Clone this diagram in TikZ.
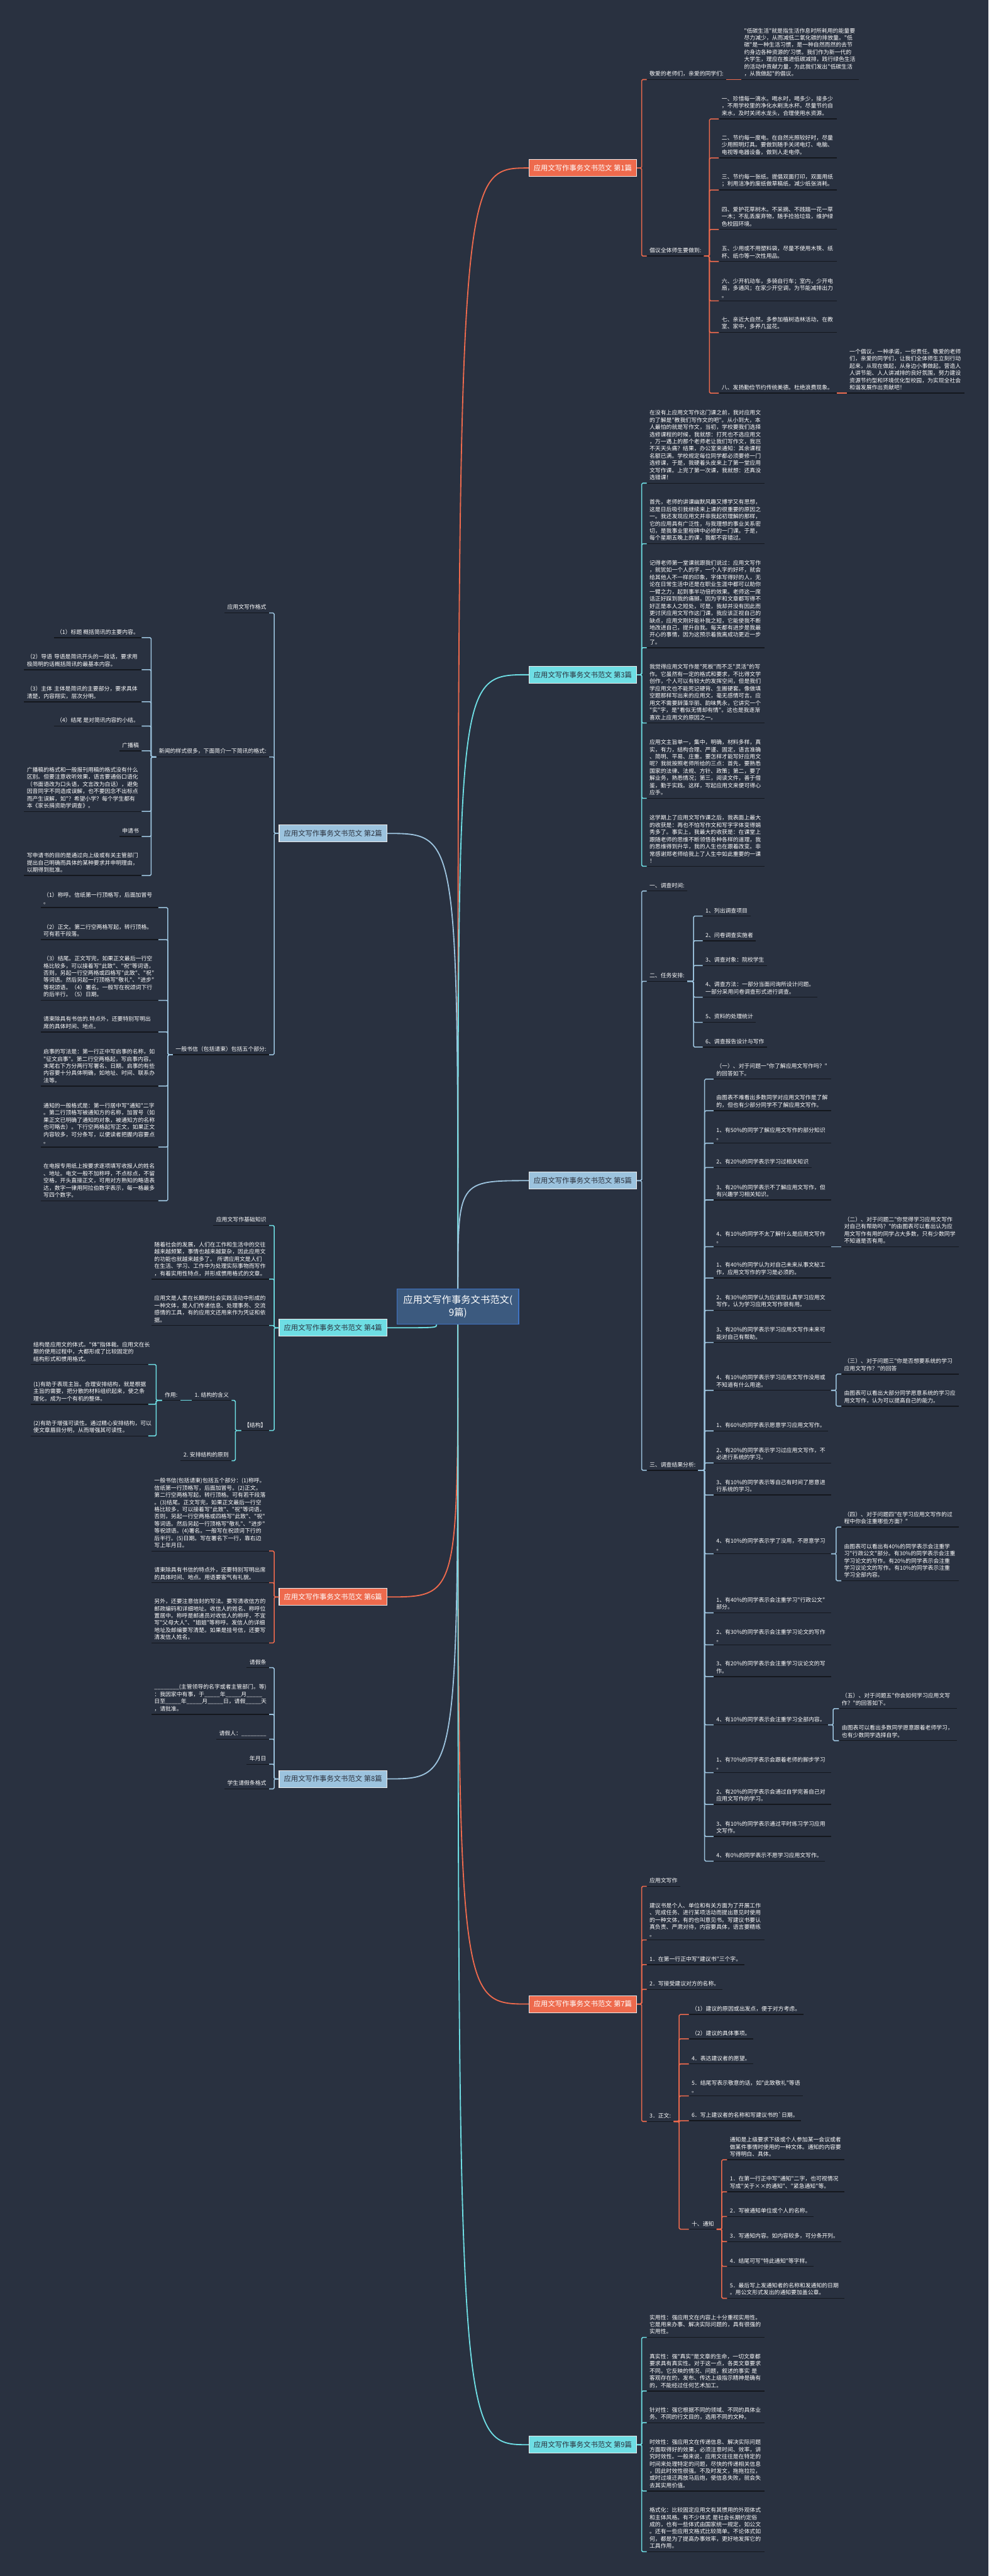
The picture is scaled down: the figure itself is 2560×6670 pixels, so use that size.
\documentclass[tikz,border=0pt]{standalone}
\usepackage{fontspec}
\newfontfamily\cjk{Noto Sans CJK SC}
\usetikzlibrary{positioning}
\definecolor{bgnavy}{HTML}{293140}
\definecolor{coral}{HTML}{EE6A4D}
\definecolor{aqua}{HTML}{6EDEE4}
\definecolor{sky}{HTML}{9CC3DE}
\definecolor{rootfill}{HTML}{3C5A7F}
\definecolor{rootedge}{HTML}{3F74C4}
\definecolor{inkline}{HTML}{14171D}
\definecolor{topicink}{HTML}{2A303C}
\tikzset{
  rootbox/.style={draw=rootedge, line width=0.4mm, fill=rootfill, text=white,
    font=\cjk\fontsize{14.2pt}{18pt}\selectfont, align=center,
    minimum width=63mm, minimum height=18.4mm, inner sep=0pt},
  topicbox/.style={draw=white!92!black, line width=0.35mm, text=topicink,
    font=\cjk\fontsize{10.5pt}{12pt}\selectfont,
    minimum width=55.8mm, minimum height=8.8mm, inner sep=0pt},
  underl/.style={draw=inkline, line width=0.45mm},
  leaf/.style={font=\cjk\fontsize{8.2pt}{10.6pt}\selectfont, text=white,
    align=left, inner xsep=1.4mm, inner ysep=1.5mm,
    append after command={(\tikzlastnode.south west) edge[underl] (\tikzlastnode.south east)}},
  para/.style={leaf, text width=58mm},
  rl/.style={anchor=south west},
  ll/.style={anchor=south east},
  trunk/.style={line width=0.6mm},
  twig/.style={line width=0.5mm, rounded corners=0.6mm},
}

\begin{document}
\begin{tikzpicture}[x=0.2mm,y=-0.2mm]
\useasboundingbox (0,0) rectangle (2560,6670);
\fill[bgnavy] (0,0) rectangle (2560,6670);

% centre and the nine branch boxes
\node[rootbox] (root) at (1186,3383) {应用文写作事务文书范文(\\9篇)};
\node[topicbox, fill=coral, text=white] (p1) at (1509.5,435) {应用文写作事务文书范文 第1篇};
\node[topicbox, fill=sky] (p2) at (862.5,2158) {应用文写作事务文书范文 第2篇};
\node[topicbox, fill=aqua] (p3) at (1509.5,1747) {应用文写作事务文书范文 第3篇};
\node[topicbox, fill=aqua] (p4) at (862.5,3438) {应用文写作事务文书范文 第4篇};
\node[topicbox, fill=sky] (p5) at (1509.5,3057) {应用文写作事务文书范文 第5篇};
\node[topicbox, fill=coral, text=white] (p6) at (862.5,4135) {应用文写作事务文书范文 第6篇};
\node[topicbox, fill=coral, text=white] (p7) at (1509.5,5189) {应用文写作事务文书范文 第7篇};
\node[topicbox, fill=sky] (p8) at (862.5,4606) {应用文写作事务文书范文 第8篇};
\node[topicbox, fill=aqua] (p9) at (1509.5,6330) {应用文写作事务文书范文 第9篇};

% ---------------- 第1篇
\node[leaf, rl] (p1a) at (1675,206) {敬爱的老师们，亲爱的同学们:};
\node[para, rl] (p1ax) at (1920,206) {"低碳生活"就是指生活作息时所耗用的能量要\\尽力减少，从而减低二氧化碳的排放量。"低\\碳"是一种生活习惯，是一种自然而然的去节\\约身边各种资源的'习惯。我们作为新一代的\\大学生，理应在推进低碳减排，践行绿色生活\\的活动中贡献力量，为此我们发出"低碳生活\\，从我做起"的倡议。};
\node[leaf, rl] (p1b) at (1675,663) {倡议全体师生要做到:};
\node[para, rl] (p1b1) at (1862,308) {一、珍惜每一滴水。喝水时，喝多少，接多少\\，不用学校里的净化水刷洗水杯。尽量节约自\\来水，及时关闭水龙头，合理使用水资源。};
\node[para, rl] (p1b2) at (1862,409) {二、节约每一度电。在自然光照较好时，尽量\\少用照明灯具。要做到随手关闭电灯、电脑、\\电视等电器设备，做到人走电停。};
\node[para, rl] (p1b3) at (1862,492) {三、节约每一张纸。提倡双面打印，双面用纸\\；利用洁净的废纸做草稿纸，减少纸张消耗。};
\node[para, rl] (p1b4) at (1862,594) {四、爱护花草树木。不采摘、不践踏一花一草\\一木；不乱丢废弃物，随手捡拾垃圾，维护绿\\色校园环境。};
\node[para, rl] (p1b5) at (1862,677) {五、少用或不用塑料袋，尽量不使用木筷、纸\\杯、纸巾等一次性用品。};
\node[para, rl] (p1b6) at (1862,779) {六、少开机动车，多骑自行车；室内，少开电\\扇，多通风；在家少开空调，为节能减排出力\\。};
\node[para, rl] (p1b7) at (1862,861) {七、亲近大自然，多参加植树造林活动，在教\\室、家中，多养几盆花。};
\node[para, rl] (p1b8) at (1862,1018) {八、发扬勤俭节约传统美德。杜绝浪费现象。};
\node[para, rl] (p1b8x) at (2193,1018) {一个倡议，一种承诺，一份责任。敬爱的老师\\们，亲爱的同学们，让我们全体师生立刻行动\\起来，从现在做起，从身边小事做起。营造人\\人讲节能、人人讲减排的良好氛围，努力建设\\资源节约型和环境优化型校园，为实现全社会\\和谐发展作出贡献吧！};

% ---------------- 第3篇
\node[para, rl] (p3a) at (1675,1251) {在没有上应用文写作这门课之前，我对应用文\\的了解是"教我们写作文的吧"。从小到大，本\\人最怕的就是写作文，当初，学校要我们选择\\选修课程的时候，我就想：打死也不选应用文\\，万一遇上的那个老师老让我们写作文，我岂\\不天天头痛？结果，办公室来通知：其余课程\\名额已满。学校规定每位同学都必须要修一门\\选修课，于是，我硬着头皮来上了第一堂应用\\文写作课。上完了第一次课，我就想：还真没\\选错课！};
\node[para, rl] (p3b) at (1675,1408) {首先，老师的讲课幽默风趣又博学又有思想，\\这是日后吸引我继续来上课的很重要的原因之\\一。我还发现应用文并非我起初理解的那样，\\它的应用具有广泛性，与我理想的事业关系密\\切，是我事业里程碑中必修的一门课。于是，\\每个星期五晚上的课，我都不容错过。};
\node[para, rl] (p3c) at (1675,1677) {记得老师第一堂课就跟我们说过：应用文写作\\，就犹如一个人的字，一个人字的好坏，就会\\给其他人不一样的印象，字体写得好的人，无\\论在日常生活中还是在职业生涯中都可以助你\\一臂之力，起到事半功倍的效果。老师这一席\\话正好踩到我的痛脚。因为字和文章都写得不\\好正是本人之短处，可是，我却并没有因此而\\更讨厌应用文写作这门课，我应该正视自己的\\缺点，应用文刚好能补我之短，它能使我不断\\地改进自己，提升自我。每天都有进步是我最\\开心的事情，因为这预示着我离成功更近一步\\了。};
\node[para, rl] (p3d) at (1675,1872) {我觉得应用文写作是"死板"而不乏"灵活"的写\\作。它虽然有一定的格式和要求，不比得文学\\创作，个人可以有较大的发挥空间，但是我们\\学应用文也不能死记硬背、生搬硬套。像做填\\空题那样写出来的应用文，毫无感情可言。应\\用文不需要辞藻华丽、韵味隽永，它讲究一个\\"实"字，是"看似无情却有情"。这也是我逐渐\\喜欢上应用文的原因之一。};
\node[para, rl] (p3e) at (1675,2067) {应用文主旨单一，集中，明确，材料多样，真\\实，有力，结构合理、严谨、固定，语言准确\\、简明、平易、庄重。要怎样才能写好应用文\\呢？我就按照老师所给的三点：首先，要熟悉\\国家的法律、法规、方针、政策；第二，要了\\解业务，熟悉情况；第三，阅读文件，善于借\\鉴，勤于实践。这样，写起应用文来便可得心\\应手。};
\node[para, rl] (p3f) at (1675,2243) {这学期上了应用文写作课之后，我表面上最大\\的收获是：再也不怕写作文和写字字体变得娟\\秀多了。事实上，我最大的收获是：在课堂上\\跟随老师的思维不断领悟各种各样的道理，我\\的思维得到升华，我的人生也在跟着改变。非\\常感谢郑老师给我上了人生中如此重要的一课\\！};

% ---------------- 第5篇
\node[leaf, rl] (p5a) at (1675,2307) {一、调查时间:};
\node[leaf, rl] (p5b) at (1675,2541) {二、任务安排:};
\node[leaf, rl] (p5c) at (1675,3807) {三、调查结果分析:};
\node[leaf, rl] (p5b1) at (1820,2372) {1、列出调查项目};
\node[leaf, rl] (p5b2) at (1820,2436) {2、问卷调查实施者};
\node[leaf, rl] (p5b3) at (1820,2500) {3、调查对象：院校学生};
\node[leaf, rl] (p5b4) at (1820,2582) {4、调查方法：一部分当面问询所设计问题。\\一部分采用问卷调查形式进行调查。};
\node[leaf, rl] (p5b5) at (1820,2647) {5、资料的处理统计};
\node[leaf, rl] (p5b6) at (1820,2711) {6、调查报告设计与写作};
\node[para, rl] (c01) at (1848,2794) {（一）、对于问题一"你了解应用文写作吗？"\\的回答如下。};
\node[para, rl] (c02) at (1848,2876) {由图表不难看出多数同学对应用文写作是了解\\的，但也有少部分同学不了解应用文写作。};
\node[para, rl] (c03) at (1848,2960) {1、有50\%的同学了解应用文写作的部分知识\\。};
\node[leaf, rl] (c04) at (1848,3023) {2、有20\%的同学表示学习过相关知识};
\node[para, rl] (c05) at (1848,3107) {3、有20\%的同学表示不了解应用文写作，但\\有兴趣学习相关知识。};
\node[para, rl] (c06) at (1848,3228) {4、有10\%的同学不太了解什么是应用文写作\\。};
\node[para, rl] (c07) at (1848,3309) {1、有40\%的同学认为对自己未来从事文秘工\\作，应用文写作的学习是必须的。};
\node[para, rl] (c08) at (1848,3393) {2、有30\%的同学认为应该现认真学习应用文\\写作，认为学习应用文写作很有用。};
\node[para, rl] (c09) at (1848,3476) {3、有20\%的同学表示学习应用文写作未来可\\能对自己有帮助。};
\node[para, rl] (c10) at (1848,3600) {4、有10\%的同学表示学习应用文写作没用或\\不知道有什么用途。};
\node[leaf, rl] (c11) at (1848,3705) {1、有60\%的同学表示愿意学习应用文写作。};
\node[para, rl] (c12) at (1848,3788) {2、有20\%的同学表示学习过应用文写作，不\\必进行系统的学习。};
\node[para, rl] (c13) at (1848,3871) {3、有10\%的同学表示等自己有时间了愿意进\\行系统的学习。};
\node[para, rl] (c14) at (1848,4023) {4、有10\%的同学表示学了没用，不愿意学习\\。};
\node[para, rl] (c15) at (1848,4176) {1、有40\%的同学表示会注重学习"行政公文"\\部分。};
\node[para, rl] (c16) at (1848,4259) {2、有30\%的同学表示会注重学习论文的写作\\。};
\node[para, rl] (c17) at (1848,4341) {3、有20\%的同学表示会注重学习议论文的写\\作。};
\node[leaf, rl] (c18) at (1848,4466) {4、有10\%的同学表示会注重学习全部内容。};
\node[para, rl] (c19) at (1848,4590) {1、有70\%的同学表示会跟着老师的脚步学习\\。};
\node[para, rl] (c20) at (1848,4672) {2、有20\%的同学表示会通过自学完善自己对\\应用文写作的学习。};
\node[para, rl] (c21) at (1848,4755) {3、有10\%的同学表示通过平时练习学习应用\\文写作。};
\node[leaf, rl] (c22) at (1848,4819) {4、有0\%的同学表示不愿学习应用文写作。};
\node[para, rl] (c06x) at (2179,3228) {（二）、对于问题二"你觉得学习应用文写作\\对自己有帮助吗？"的由图表可以看出认为应\\用文写作有用的同学占大多数，只有少数同学\\不知道是否有用。};
\node[para, rl] (c10a) at (2179,3558) {（三）、对于问题三"你是否想要系统的学习\\应用文写作？"的回答};
\node[para, rl] (c10b) at (2179,3641) {由图表可以看出大部分同学愿意系统的学习应\\用文写作，认为可以提高自己的能力。};
\node[para, rl] (c14a) at (2179,3954) {（四）、对于问题四"在学习应用文写作的过\\程中你会注重哪些方面？"};
\node[para, rl] (c14b) at (2179,4093) {由图表可以看出有40\%的同学表示会注重学\\习"行政公文"部分。有30\%的同学表示会注重\\学习论文的写作。有20\%的同学表示会注重\\学习议论文的写作。有10\%的同学表示注重\\学习全部内容。};
\node[para, rl] (c18a) at (2173,4424) {（五）、对于问题五"你会如何学习应用文写\\作？"的回答如下。};
\node[para, rl] (c18b) at (2173,4507) {由图表可以看出多数同学愿意跟着老师学习，\\也有少数同学选择自学。};

% ---------------- 第7篇
\node[leaf, rl] (p7a) at (1675,4884) {应用文写作};
\node[para, rl] (p7b) at (1675,5023) {建议书是个人、单位和有关方面为了开展工作\\、完成任务、进行某项活动而提出意见时使用\\的一种文体，有的也叫意见书。写建议书要认\\真负责、严肃对待，内容要具体，语言要精练\\。};
\node[leaf, rl] (p7c) at (1675,5087) {1．在第一行正中写"建议书"三个字。};
\node[leaf, rl] (p7d) at (1675,5151) {2．写接受建议对方的名称。};
\node[leaf, rl] (p7e) at (1675,5493) {3．正文:};
\node[leaf, rl] (p7e1) at (1784,5216) {（1）建议的原因或出发点，便于对方考虑。};
\node[leaf, rl] (p7e2) at (1784,5279) {（2）建议的具体事项。};
\node[leaf, rl] (p7e3) at (1784,5344) {4．表达建议者的愿望。};
\node[leaf, rl] (p7e4) at (1784,5427) {5．结尾写表示敬意的话，如"此致敬礼"等语\\。};
\node[leaf, rl] (p7e5) at (1784,5491) {6．写上建议者的名称和写建议书的`日期。};
\node[leaf, rl] (p7e6) at (1784,5772) {十、通知};
\node[para, rl] (n1) at (1883,5592) {通知是上级要求下级或个人参加某一会议或者\\做某件事情时使用的一种文体。通知的内容要\\写得明白、具体。};
\node[para, rl] (n2) at (1883,5675) {1．在第一行正中写"通知"二字，也可视情况\\写成"关于××的通知"、"紧急通知"等。};
\node[leaf, rl] (n3) at (1883,5739) {2．写被通知单位或个人的名称。};
\node[leaf, rl] (n4) at (1883,5804) {3．写通知内容。如内容较多，可分条开列。};
\node[leaf, rl] (n5) at (1883,5868) {4．结尾可写"特此通知"等字样。};
\node[para, rl] (n6) at (1883,5951) {5．最后写上发通知者的名称和发通知的日期\\。用公文形式发出的通知要加盖公章。};

% ---------------- 第9篇
\node[para, rl] (q1) at (1675,6052) {实用性：强应用文在内容上十分重视实用性。\\它是用来办事、解决实际问题的，具有很强的\\实用性。};
\node[para, rl] (q2) at (1675,6191) {真实性：强"真实"是文章的生命，一切文章都\\要求具有真实性。对于这一点，各类文章要求\\不同。它反映的情况、问题，叙述的事实 是\\客观存在的，发布、传达上级指示精神是确有\\的，不能经过任何艺术加工。};
\node[para, rl] (q3) at (1675,6273) {针对性：强它根据不同的领域、不同的具体业\\务、不同的行文目的，选用不同的文种。};
\node[para, rl] (q4) at (1675,6450) {时效性：强应用文在传递信息、解决实际问题\\方面取得好的效果，必须注意时间、效率，讲\\究时效性。一般来说，应用文往往是在特定的\\时间来处理特定的问题，尽快的传递相关信息\\，因此时效性很强。不及时发文，拖拖拉拉，\\或时过境迁再放马后炮，使信息失败，就会失\\去其实用价值。};
\node[para, rl] (q5) at (1675,6607) {格式化：比较固定应用文有其惯用的外观体式\\和主体风格。有不少体式 是社会长期约定俗\\成的，也有一些体式由国家统一规定，如公文\\。还有一些应用文格式比较简单。不论体式如\\何，都是为了提高办事效率，更好地发挥它的\\工具作用。};

% ---------------- 第2篇
\node[leaf, ll] (p2a) at (697,1587) {应用文写作格式};
\node[leaf, ll] (p2b) at (697,1960) {新闻的样式很多，下面简介一下简讯的格式:};
\node[leaf, ll] (p2c) at (697,2731) {一般书信（包括请柬）包括五个部分:};
\node[leaf, ll] (b1) at (367,1651) {（1）标题 概括简讯的主要内容。};
\node[para, ll] (b2) at (367,1734) {（2）导语 导语是简讯开头的一段话，要求用\\极简明的话概括简讯的最基本内容。};
\node[para, ll] (b3) at (367,1817) {（3）主体 主体是简讯的主要部分，要求具体\\清楚，内容翔实，层次分明。};
\node[leaf, ll] (b4) at (367,1880) {（4）结尾 是对简讯内容的小结。};
\node[leaf, ll] (b5) at (367,1944) {广播稿};
\node[para, ll] (b6) at (367,2101) {广播稿的格式和一般报刊用稿的格式没有什么\\区别。但要注意收听效果，语言要通俗口语化\\（书面语改为口头语，文言改为白话），避免\\因音同字不同造成误解，也不要因念不出标点\\而产生误解，如"？希望小学？每个学生都有\\本《家长捐资助学调查》。};
\node[leaf, ll] (b7) at (367,2166) {申请书};
\node[para, ll] (b8) at (367,2267) {写申请书的目的是通过向上级或有关主管部门\\提出自己明确而具体的某种要求并申明理由，\\以期得到批准。};
\node[para, ll] (d1) at (410,2350) {（1）称呼。信纸第一行顶格写，后面加冒号\\。};
\node[para, ll] (d2) at (410,2433) {（2）正文。第二行空两格写起，转行顶格。\\可有若干段落。};
\node[para, ll] (d3) at (410,2590) {（3）结尾。正文写完，如果正文最后一行空\\格比较多，可以接着写"此致"、"祝"等词语，\\否则，另起一行空两格或四格写"此致"、"祝"\\等词语。然后另起一行顶格写"敬礼"、"进步"\\等祝颂语。（4）署名。一般写在祝颂词下行\\的后半行。（5）日期。};
\node[para, ll] (d4) at (410,2672) {请柬除具有书信的.特点外，还要特别写明出\\席的具体时间、地点。};
\node[para, ll] (d5) at (410,2812) {启事的写法是：第一行正中写启事的名称，如\\"征文启事"。第二行空两格起，写启事内容。\\末尾右下方分两行写署名、日期。启事的有些\\内容要十分具体明确，如地址、时间、联系办\\法等。};
\node[para, ll] (d6) at (410,2970) {通知的一般格式是：第一行居中写"通知"二字\\。第二行顶格写被通知方的名称，加冒号（如\\果正文已明确了通知的对象，被通知方的名称\\也可略去）。下行空两格起写正文，如果正文\\内容较多，可分条写，以便读者把握内容要点\\。};
\node[para, ll] (d7) at (410,3109) {在电报专用纸上按要求逐项填写收报人的姓名\\、地址。电文一般不加称呼，不点标点，不留\\空格，开头直接正文，可用对方熟知的略语表\\达，数字一律用阿拉伯数字表示，每一格最多\\写四个数字。};

% ---------------- 第4篇
\node[leaf, ll] (p4a) at (697,3173) {应用文写作基础知识};
\node[para, ll] (p4b) at (697,3312) {随着社会的发展，人们在工作和生活中的交往\\越来越频繁，事情也越来越复杂，因此应用文\\的功能也就越来越多了。 所谓应用文是人们\\在生活、学习、工作中为处理实际事物而写作\\，有着实用性特点，并形成惯用格式的文章。};
\node[para, ll] (p4c) at (697,3432) {应用文是人类在长期的社会实践活动中形成的\\一种文体，是人们传递信息、处理事务、交流\\感情的工具，有的应用文还用来作为凭证和依\\据。};
\node[leaf, ll] (p4d) at (697,3704) {【结构】};
\node[leaf, ll] (p4d1) at (600,3626) {1. 结构的含义};
\node[leaf, ll] (p4d2) at (600,3782) {2. 安排结构的原则};
\node[leaf, ll] (p4e) at (467,3626) {作用:};
\node[para, ll] (e1) at (384,3533) {结构是应用文的体式。"体"指体裁。应用文在长\\期的使用过程中，大都形成了比较固定的\\结构形式和惯用格式。};
\node[para, ll] (e2) at (384,3636) {(1)有助于表现主旨。合理安排结构，就是根据\\主旨的需要，把分散的材料组织起来，使之条\\理化，成为一个有机的整体。};
\node[para, ll] (e3) at (384,3718) {(2)有助于增强可读性。通过精心安排结构，可以\\使文章眉目分明，从而增强其可读性。};

% ---------------- 第6篇
\node[para, ll] (p6a) at (697,4016) {一般书信(包括请柬)包括五个部分：(1)称呼。\\信纸第一行顶格写，后面加冒号。(2)正文。\\第二行空两格写起，转行顶格。可有若干段落\\。(3)结尾。正文写完，如果正文最后一行空\\格比较多，可以接着写"此致"、"祝"等词语，\\否则，另起一行空两格或四格写"此致"、"祝"\\等词语。然后另起一行顶格写"敬礼"、"进步"\\等祝颂语。(4)署名。一般写在祝颂词下行的\\后半行。(5)日期。写在署名下一行，靠右边\\写上年月日。};
\node[para, ll] (p6b) at (697,4098) {请柬除具有书信的特点外，还要特别写明出席\\的具体时间、地点。用语要客气有礼貌。};
\node[para, ll] (p6c) at (697,4254) {另外，还要注意信封的写法。要写清收信方的\\邮政编码和详细地址。收信人的姓名、称呼位\\置居中。称呼是邮递员对收信人的称呼，不宜\\写"父母大人"、"姐姐"等称呼。发信人的详细\\地址及邮编要写清楚。如果是挂号信，还要写\\清发信人姓名。};

% ---------------- 第8篇
\node[leaf, ll] (p8a) at (697,4318) {请假条};
\node[para, ll] (p8b) at (697,4439) {\_\_\_\_\_\_\_\_(主管领导的名字或者主管部门。等)\\：我因家中有事，于\_\_\_\_\_年\_\_\_\_\_月\_\_\_\_\_\\日至\_\_\_\_\_年\_\_\_\_\_月\_\_\_\_\_日，请假\_\_\_\_\_天\\，请批准。};
\node[leaf, ll] (p8c) at (697,4503) {请假人：\_\_\_\_\_\_\_\_};
\node[leaf, ll] (p8d) at (697,4568) {年月日};
\node[leaf, ll] (p8e) at (697,4632) {学生请假条格式};

% ---------------- connectors
\draw[trunk, coral] (root.north) .. controls (root.north |- p1.west) .. (p1.west);
\draw[trunk, sky] (root.north) .. controls (root.north |- p2.east) .. (p2.east);
\draw[trunk, aqua] (root.north) .. controls (root.north |- p3.west) .. (p3.west);
\draw[trunk, aqua] ([xshift=-11mm]root.south) .. controls ([xshift=-11mm]root.south |- p4.east) .. (p4.east);
\draw[trunk, sky] (root.north) .. controls (root.north |- p5.west) .. (p5.west);
\draw[trunk, coral] (root.south) .. controls (root.south |- p6.east) .. (p6.east);
\draw[trunk, coral] (root.south) .. controls (root.south |- p7.west) .. (p7.west);
\draw[trunk, sky] (root.south) .. controls (root.south |- p8.east) .. (p8.east);
\draw[trunk, aqua] (root.south) .. controls (root.south |- p9.west) .. (p9.west);

\foreach \k in {p1a,p1b}
  \draw[twig, coral] (p1.east) -- ++(12,0) |- (\k.south west);
\draw[twig, coral] (p1a.south east) -- (p1ax.south west);
\foreach \k in {1,...,8}
  \draw[twig, coral] (p1b.south east) -- ++(14,0) |- (p1b\k.south west);
\draw[twig, coral] (p1b8.south east) -- (p1b8x.south west);

\foreach \k in {p3a,p3b,p3c,p3d,p3e,p3f}
  \draw[twig, aqua] (p3.east) -- ++(12,0) |- (\k.south west);

\foreach \k in {p5a,p5b,p5c}
  \draw[twig, sky] (p5.east) -- ++(12,0) |- (\k.south west);
\foreach \k in {1,...,6}
  \draw[twig, sky] (p5b.south east) -- ++(16,0) |- (p5b\k.south west);
\foreach \k in {c01,c02,c03,c04,c05,c06,c07,c08,c09,c10,c11,c12,c13,c14,c15,c16,c17,c18,c19,c20,c21,c22}
  \draw[twig, sky] (p5c.south east) -- ++(16,0) |- (\k.south west);
\draw[twig, sky] (c06.south east) -- (c06x.south west);
\foreach \k in {c10a,c10b}
  \draw[twig, sky] (c10.south east) -- ++(13,0) |- (\k.south west);
\foreach \k in {c14a,c14b}
  \draw[twig, sky] (c14.south east) -- ++(13,0) |- (\k.south west);
\foreach \k in {c18a,c18b}
  \draw[twig, sky] (c18.south east) -- ++(13,0) |- (\k.south west);

\foreach \k in {p7a,p7b,p7c,p7d,p7e}
  \draw[twig, coral] (p7.east) -- ++(12,0) |- (\k.south west);
\foreach \k in {1,...,6}
  \draw[twig, coral] (p7e.south east) -- ++(14,0) |- (p7e\k.south west);
\foreach \k in {1,...,6}
  \draw[twig, coral] (p7e6.south east) -- ++(13,0) |- (n\k.south west);

\foreach \k in {q1,q2,q3,q4,q5}
  \draw[twig, aqua] (p9.east) -- ++(12,0) |- (\k.south west);

\foreach \k in {p2a,p2b,p2c}
  \draw[twig, sky] (p2.west) -- ++(-12,0) |- (\k.south east);
\foreach \k in {1,...,8}
  \draw[twig, sky] (p2b.south west) -- ++(-13,0) |- (b\k.south east);
\foreach \k in {1,...,7}
  \draw[twig, sky] (p2c.south west) -- ++(-13,0) |- (d\k.south east);

\foreach \k in {p4a,p4b,p4c,p4d}
  \draw[twig, aqua] (p4.west) -- ++(-12,0) |- (\k.south east);
\foreach \k in {p4d1,p4d2}
  \draw[twig, aqua] (p4d.south west) -- ++(-15,0) |- (\k.south east);
\draw[twig, aqua] (p4d1.south west) -- (p4e.south east);
\foreach \k in {1,2,3}
  \draw[twig, aqua] (p4e.south west) -- ++(-15,0) |- (e\k.south east);

\foreach \k in {p6a,p6b,p6c}
  \draw[twig, coral] (p6.west) -- ++(-12,0) |- (\k.south east);

\foreach \k in {p8a,p8b,p8c,p8d,p8e}
  \draw[twig, sky] (p8.west) -- ++(-12,0) |- (\k.south east);
\end{tikzpicture}
\end{document}
